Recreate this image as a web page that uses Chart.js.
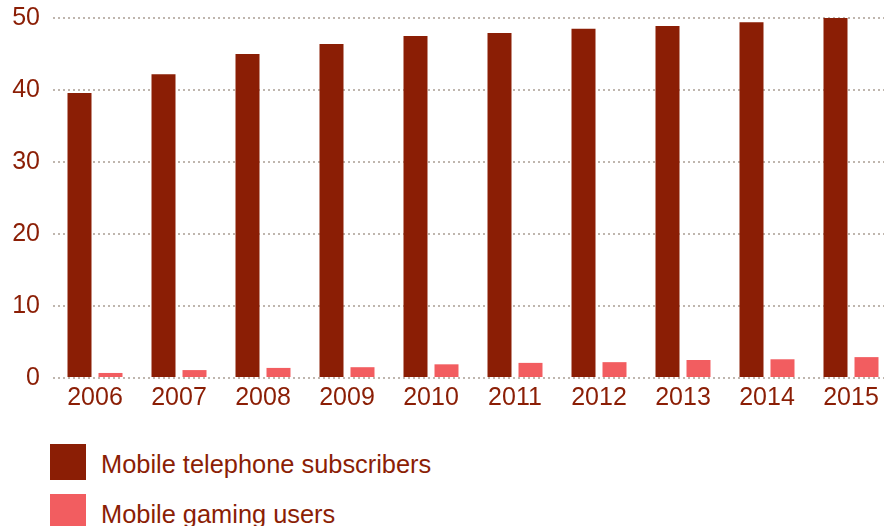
<!DOCTYPE html>
<html>
<head>
<meta charset="utf-8">
<script src="https://cdn.jsdelivr.net/npm/chart.js@4"></script>
<style>
  html, body { margin: 0; padding: 0; background: #fff; overflow: hidden; width: 884px; height: 526px; }
  #wrap { position: absolute; left: 0; top: -10px; width: 900px; height: 430px; }
  #legend { position: absolute; left: 50px; top: 444px; font-family: "Liberation Sans", Arial, sans-serif; font-size: 25.4px; color: #8B1E05; }
  .item { display: flex; align-items: center; height: 36px; margin-bottom: 14px; }
  .item span { position: relative; top: 2px; }
  .swatch { width: 36px; height: 36px; margin-right: 15px; flex: none; }
</style>
</head>
<body>
<div id="wrap"><canvas id="chart" width="900" height="430"></canvas></div>
<div id="legend"></div>
<script>
const years = ['2006', '2007', '2008', '2009', '2010', '2011', '2012', '2013', '2014', '2015'];
const subscribers = [39.6, 42.2, 45.0, 46.4, 47.5, 47.9, 48.5, 48.9, 49.4, 50.0];
const gamers = [0.7, 1.1, 1.4, 1.5, 1.9, 2.1, 2.2, 2.5, 2.6, 2.9];
const seriesNames = ['Mobile telephone subscribers', 'Mobile gaming users'];
const seriesColors = ['#8B1E05', '#F25D60'];
const yTicks = [0, 10, 20, 30, 40, 50];

const textColor = '#8B1E05';
const font = { family: '"Liberation Sans", Arial, sans-serif', size: 25 };

new Chart(document.getElementById('chart'), {
  type: 'bar',
  data: {
    labels: years,
    datasets: [
      { label: seriesNames[0], data: subscribers, backgroundColor: seriesColors[0] },
      { label: seriesNames[1], data: gamers, backgroundColor: seriesColors[1] }
    ]
  },
  options: {
    responsive: false,
    devicePixelRatio: 1,
    animation: false,
    categoryPercentage: 62 / 84,
    barPercentage: 24 / 31,
    layout: { padding: { top: 8, right: 7, left: 0, bottom: 0 } },
    plugins: { legend: { display: false }, tooltip: { enabled: false } },
    scales: {
      x: {
        offset: true,
        grid: { display: false, drawTicks: false },
        border: { display: false },
        ticks: { color: textColor, font: font, padding: 5, maxRotation: 0 },
        afterFit: (s) => { s.height = 42; }
      },
      y: {
        min: 0,
        max: 50,
        afterBuildTicks: (s) => { s.ticks = yTicks.map(v => ({ value: v })); },
        grid: {
          color: '#BFB6AE',
          lineWidth: 2,
          drawTicks: false
        },
        border: { display: false, dash: [2, 3] },
        ticks: { color: textColor, font: font, padding: 13 },
        afterFit: (s) => { s.width = 53; }
      }
    }
  }
});

// Legend below the plot, one row per series
const legend = document.getElementById('legend');
seriesNames.forEach((name, i) => {
  const row = document.createElement('div');
  row.className = 'item';
  const sw = document.createElement('div');
  sw.className = 'swatch';
  sw.style.background = seriesColors[i];
  const label = document.createElement('span');
  label.textContent = name;
  row.appendChild(sw);
  row.appendChild(label);
  legend.appendChild(row);
});
</script>
</body>
</html>
